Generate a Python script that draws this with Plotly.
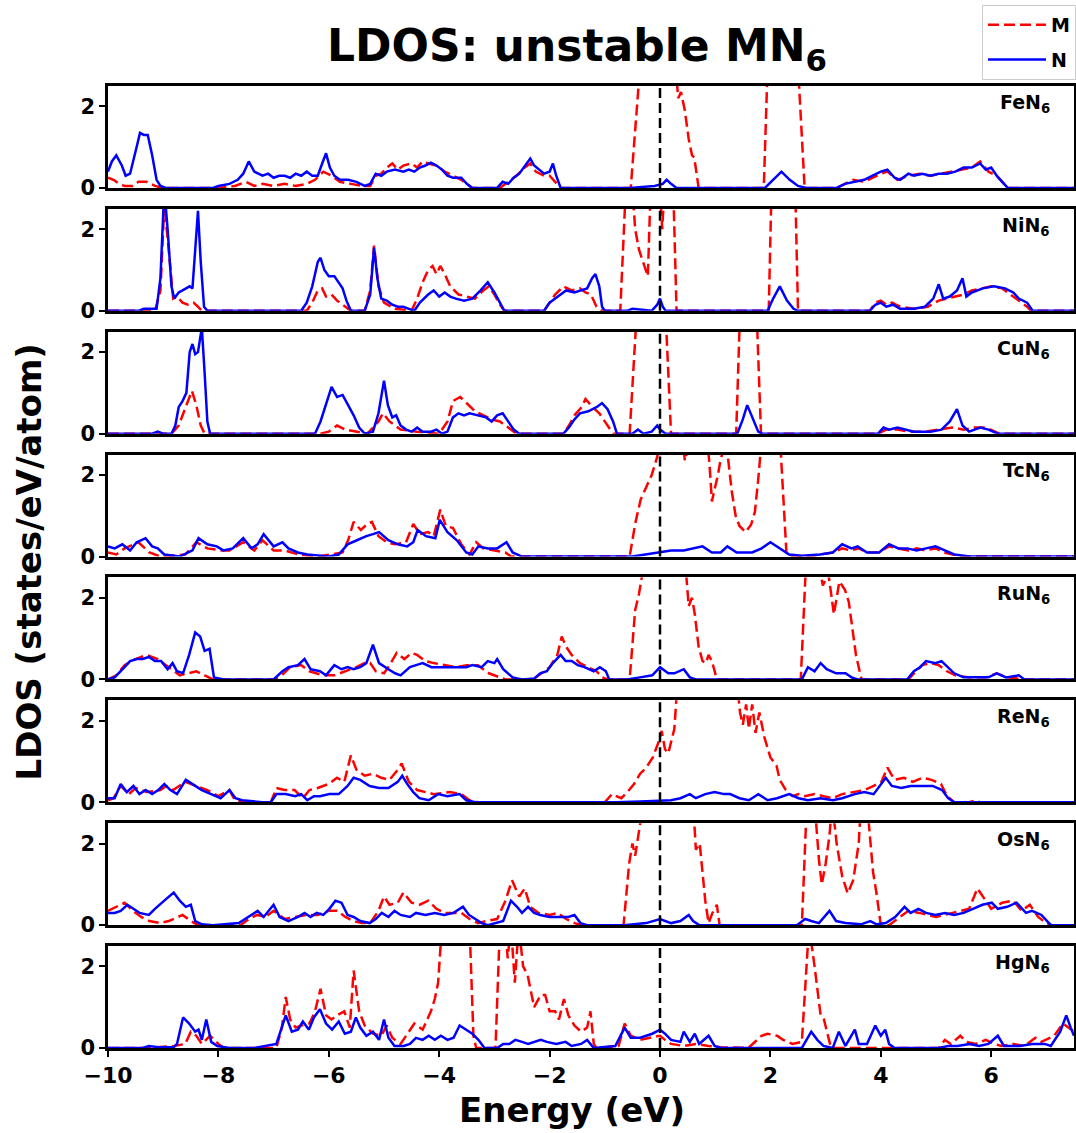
import plotly.graph_objects as go
from plotly.subplots import make_subplots

# ---------------- data (energy in eV, LDOS in states/eV/atom) ----------------
panel_labels = ["FeN<sub>6</sub>", "NiN<sub>6</sub>", "CuN<sub>6</sub>", "TcN<sub>6</sub>",
                "RuN<sub>6</sub>", "ReN<sub>6</sub>", "OsN<sub>6</sub>", "HgN<sub>6</sub>"]
x_ticks = [-10, -8, -6, -4, -2, 0, 2, 4, 6]
y_ticks = [0, 2]

fe_M = [(-10.0, 0.25), (-9.9, 0.2), (-9.8, 0.1), (-9.7, 0.05), (-9.55, 0.05), (-9.45, 0.15), (-9.3, 0.15),
        (-9.15, 0.05), (-9.0, 0.0), (-8.0, 0.0), (-7.7, 0.05), (-7.5, 0.15), (-7.35, 0.05), (-7.2, 0.1),
        (-7.0, 0.05), (-6.8, 0.1), (-6.6, 0.05), (-6.4, 0.1), (-6.25, 0.2), (-6.1, 0.4), (-5.95, 0.3),
        (-5.8, 0.15), (-5.6, 0.1), (-5.4, 0.05), (-5.25, 0.05), (-5.15, 0.3), (-5.05, 0.35), (-4.95, 0.5),
        (-4.85, 0.6), (-4.75, 0.45), (-4.65, 0.55), (-4.5, 0.6), (-4.4, 0.5), (-4.3, 0.65), (-4.2, 0.6),
        (-4.05, 0.55), (-3.9, 0.4), (-3.75, 0.3), (-3.6, 0.2), (-3.5, 0.1), (-3.4, 0.0), (-2.9, 0.0),
        (-2.8, 0.1), (-2.6, 0.3), (-2.45, 0.5), (-2.35, 0.6), (-2.25, 0.4), (-2.1, 0.3), (-2.0, 0.3),
        (-1.9, 0.15), (-1.8, 0.0), (-0.53, 0.0), (-0.36, 3.0), (-0.1, 3.5), (0.2, 3.5), (0.28, 3.0),
        (0.33, 2.2), (0.38, 2.35), (0.45, 1.9), (0.52, 1.2), (0.58, 0.8), (0.62, 0.75), (0.66, 0.3),
        (0.7, 0.0), (1.88, 0.0), (1.95, 3.0), (2.5, 3.0), (2.62, 0.0), (3.2, 0.0), (3.35, 0.1), (3.5, 0.2),
        (3.7, 0.15), (3.85, 0.25), (4.0, 0.35), (4.12, 0.4), (4.3, 0.2), (4.5, 0.3), (4.7, 0.35), (4.9, 0.3),
        (5.1, 0.35), (5.3, 0.4), (5.5, 0.45), (5.65, 0.5), (5.8, 0.65), (5.95, 0.4), (6.1, 0.3), (6.2, 0.15),
        (6.3, 0.0), (7.5, 0.0)]
fe_N = [(-10.0, 0.4), (-9.93, 0.65), (-9.85, 0.8), (-9.75, 0.55), (-9.68, 0.3), (-9.6, 0.35), (-9.5, 0.9),
        (-9.42, 1.35), (-9.35, 1.3), (-9.28, 1.3), (-9.2, 0.8), (-9.12, 0.2), (-9.05, 0.05), (-8.95, 0.0),
        (-8.1, 0.0), (-8.0, 0.05), (-7.8, 0.1), (-7.65, 0.2), (-7.55, 0.35), (-7.45, 0.65), (-7.35, 0.4),
        (-7.2, 0.3), (-7.1, 0.35), (-7.0, 0.25), (-6.9, 0.3), (-6.8, 0.3), (-6.7, 0.25), (-6.6, 0.35),
        (-6.5, 0.3), (-6.4, 0.4), (-6.3, 0.3), (-6.2, 0.3), (-6.12, 0.6), (-6.05, 0.85), (-5.98, 0.5),
        (-5.9, 0.3), (-5.8, 0.2), (-5.65, 0.2), (-5.5, 0.15), (-5.35, 0.05), (-5.25, 0.1), (-5.15, 0.35),
        (-5.05, 0.3), (-4.95, 0.4), (-4.8, 0.45), (-4.65, 0.4), (-4.55, 0.45), (-4.45, 0.4), (-4.35, 0.5),
        (-4.25, 0.55), (-4.15, 0.62), (-4.05, 0.55), (-3.95, 0.45), (-3.85, 0.3), (-3.75, 0.25), (-3.6, 0.25),
        (-3.5, 0.1), (-3.4, 0.0), (-2.95, 0.0), (-2.85, 0.15), (-2.75, 0.1), (-2.65, 0.25), (-2.55, 0.35),
        (-2.45, 0.55), (-2.35, 0.72), (-2.28, 0.55), (-2.2, 0.45), (-2.1, 0.35), (-2.0, 0.4), (-1.94, 0.6),
        (-1.88, 0.3), (-1.8, 0.0), (-0.55, 0.0), (-0.3, 0.02), (-0.1, 0.05), (0.05, 0.1), (0.12, 0.2),
        (0.2, 0.1), (0.3, 0.0), (1.9, 0.0), (2.05, 0.2), (2.2, 0.4), (2.35, 0.2), (2.5, 0.05), (2.65, 0.0),
        (3.2, 0.0), (3.35, 0.1), (3.5, 0.15), (3.7, 0.2), (3.85, 0.3), (4.0, 0.4), (4.12, 0.45), (4.25, 0.25),
        (4.35, 0.2), (4.5, 0.35), (4.6, 0.3), (4.75, 0.35), (4.9, 0.3), (5.05, 0.35), (5.2, 0.35), (5.35, 0.4),
        (5.5, 0.5), (5.65, 0.5), (5.8, 0.6), (5.9, 0.45), (6.0, 0.5), (6.1, 0.3), (6.2, 0.15), (6.3, 0.0),
        (7.5, 0.0)]

ni_M = [(-10.0, 0.0), (-9.15, 0.0), (-9.05, 0.5), (-8.98, 2.6), (-8.9, 1.5), (-8.82, 0.3), (-8.75, 0.35),
        (-8.65, 0.2), (-8.55, 0.15), (-8.45, 0.2), (-8.37, 0.1), (-8.3, 0.0), (-6.4, 0.0), (-6.3, 0.2),
        (-6.2, 0.5), (-6.12, 0.55), (-6.05, 0.35), (-5.95, 0.4), (-5.85, 0.25), (-5.75, 0.15), (-5.65, 0.05),
        (-5.6, 0.0), (-5.35, 0.0), (-5.25, 0.5), (-5.18, 1.6), (-5.1, 0.6), (-5.0, 0.2), (-4.8, 0.05),
        (-4.5, 0.0), (-4.4, 0.3), (-4.3, 0.7), (-4.2, 1.0), (-4.12, 1.1), (-4.05, 0.9), (-3.98, 1.1),
        (-3.9, 0.9), (-3.8, 0.6), (-3.65, 0.4), (-3.5, 0.35), (-3.35, 0.3), (-3.2, 0.5), (-3.1, 0.6),
        (-3.0, 0.4), (-2.9, 0.15), (-2.82, 0.0), (-2.1, 0.0), (-2.0, 0.2), (-1.9, 0.4), (-1.75, 0.6),
        (-1.6, 0.5), (-1.45, 0.55), (-1.35, 0.45), (-1.25, 0.4), (-1.15, 0.1), (-1.05, 0.0), (-0.72, 0.0),
        (-0.62, 3.0), (-0.5, 3.0), (-0.45, 2.0), (-0.38, 1.5), (-0.32, 1.25), (-0.26, 1.0), (-0.22, 0.85),
        (-0.17, 3.0), (0.0, 3.0), (0.04, 2.0), (0.08, 3.0), (0.24, 3.0), (0.3, 0.0), (1.97, 0.0), (2.02, 3.0),
        (2.45, 3.0), (2.5, 0.0), (3.8, 0.0), (3.9, 0.2), (4.0, 0.25), (4.1, 0.15), (4.2, 0.2), (4.35, 0.1),
        (4.6, 0.05), (4.85, 0.1), (5.05, 0.25), (5.2, 0.3), (5.35, 0.35), (5.5, 0.4), (5.65, 0.5), (5.85, 0.55),
        (6.0, 0.6), (6.2, 0.55), (6.35, 0.4), (6.5, 0.25), (6.65, 0.1), (6.72, 0.0), (7.5, 0.0)]
ni_N = [(-10.0, 0.0), (-9.45, 0.0), (-9.35, 0.05), (-9.2, 0.05), (-9.12, 0.05), (-9.05, 0.8), (-8.98, 3.0),
        (-8.92, 2.0), (-8.85, 0.6), (-8.8, 0.3), (-8.72, 0.45), (-8.65, 0.5), (-8.58, 0.55), (-8.52, 0.6),
        (-8.47, 0.55), (-8.42, 1.5), (-8.37, 2.45), (-8.32, 1.2), (-8.26, 0.1), (-8.2, 0.0), (-6.5, 0.0),
        (-6.4, 0.2), (-6.3, 0.6), (-6.2, 1.2), (-6.15, 1.3), (-6.08, 1.0), (-6.0, 0.85), (-5.9, 0.85),
        (-5.82, 0.7), (-5.75, 0.55), (-5.68, 0.25), (-5.6, 0.0), (-5.35, 0.0), (-5.25, 0.4), (-5.18, 1.55),
        (-5.12, 0.8), (-5.05, 0.3), (-4.95, 0.25), (-4.85, 0.15), (-4.75, 0.1), (-4.65, 0.1), (-4.55, 0.05),
        (-4.45, 0.0), (-4.35, 0.2), (-4.2, 0.4), (-4.1, 0.5), (-4.0, 0.35), (-3.9, 0.45), (-3.8, 0.35),
        (-3.7, 0.3), (-3.55, 0.25), (-3.4, 0.3), (-3.25, 0.5), (-3.12, 0.7), (-3.0, 0.45), (-2.9, 0.2),
        (-2.82, 0.0), (-2.1, 0.0), (-2.0, 0.2), (-1.85, 0.35), (-1.7, 0.5), (-1.55, 0.45), (-1.45, 0.5),
        (-1.32, 0.55), (-1.23, 0.8), (-1.17, 0.9), (-1.1, 0.6), (-1.05, 0.1), (-1.0, 0.0), (-0.6, 0.0),
        (-0.5, 0.05), (-0.3, 0.02), (-0.15, 0.0), (-0.05, 0.15), (0.0, 0.3), (0.05, 0.1), (0.1, 0.0),
        (1.95, 0.0), (2.05, 0.3), (2.17, 0.6), (2.3, 0.25), (2.42, 0.05), (2.5, 0.0), (3.8, 0.0), (3.9, 0.15),
        (4.0, 0.2), (4.1, 0.1), (4.22, 0.15), (4.35, 0.05), (4.6, 0.05), (4.8, 0.1), (4.95, 0.3), (5.05, 0.65),
        (5.13, 0.3), (5.25, 0.35), (5.38, 0.5), (5.48, 0.8), (5.55, 0.35), (5.65, 0.45), (5.85, 0.55),
        (6.05, 0.6), (6.25, 0.55), (6.4, 0.45), (6.5, 0.3), (6.65, 0.2), (6.75, 0.0), (7.5, 0.0)]

cu_M = [(-10.0, 0.0), (-8.85, 0.0), (-8.72, 0.2), (-8.62, 0.55), (-8.55, 0.8), (-8.48, 1.05), (-8.4, 0.7),
        (-8.32, 0.2), (-8.25, 0.0), (-6.15, 0.0), (-6.0, 0.05), (-5.85, 0.2), (-5.7, 0.1), (-5.5, 0.05),
        (-5.3, 0.0), (-5.1, 0.3), (-5.02, 0.5), (-4.9, 0.3), (-4.7, 0.1), (-4.4, 0.05), (-4.0, 0.0),
        (-3.85, 0.3), (-3.75, 0.8), (-3.62, 0.9), (-3.5, 0.75), (-3.35, 0.55), (-3.2, 0.45), (-3.05, 0.35),
        (-2.9, 0.3), (-2.75, 0.15), (-2.6, 0.0), (-1.75, 0.0), (-1.65, 0.2), (-1.55, 0.45), (-1.42, 0.65),
        (-1.35, 0.85), (-1.22, 0.65), (-1.1, 0.5), (-0.95, 0.2), (-0.85, 0.0), (-0.55, 0.0), (-0.42, 3.0),
        (0.1, 3.0), (0.2, 0.0), (1.38, 0.0), (1.45, 3.0), (1.75, 3.0), (1.83, 0.0), (3.95, 0.0), (4.1, 0.1),
        (4.3, 0.1), (4.5, 0.05), (4.8, 0.05), (5.1, 0.1), (5.3, 0.15), (5.5, 0.1), (5.7, 0.15), (5.9, 0.15),
        (6.05, 0.05), (6.15, 0.0), (7.5, 0.0)]
cu_N = [(-10.0, 0.0), (-9.2, 0.0), (-9.1, 0.05), (-9.0, 0.0), (-8.85, 0.0), (-8.78, 0.2), (-8.72, 0.65),
        (-8.65, 0.8), (-8.58, 1.0), (-8.52, 2.0), (-8.47, 2.2), (-8.42, 1.95), (-8.37, 2.0), (-8.3, 2.6),
        (-8.25, 1.5), (-8.2, 0.3), (-8.15, 0.0), (-6.25, 0.0), (-6.15, 0.3), (-6.05, 0.75), (-5.95, 1.15),
        (-5.85, 0.9), (-5.75, 0.95), (-5.65, 0.7), (-5.55, 0.45), (-5.45, 0.15), (-5.35, 0.0), (-5.2, 0.05),
        (-5.1, 0.5), (-5.0, 1.3), (-4.93, 0.7), (-4.85, 0.4), (-4.78, 0.45), (-4.7, 0.2), (-4.6, 0.1),
        (-4.5, 0.05), (-4.4, 0.15), (-4.3, 0.05), (-4.15, 0.05), (-4.05, 0.1), (-3.95, 0.0), (-3.85, 0.05),
        (-3.75, 0.4), (-3.65, 0.5), (-3.55, 0.45), (-3.45, 0.5), (-3.3, 0.45), (-3.15, 0.4), (-3.05, 0.3),
        (-2.95, 0.45), (-2.85, 0.5), (-2.75, 0.3), (-2.65, 0.1), (-2.55, 0.0), (-1.75, 0.0), (-1.65, 0.15),
        (-1.55, 0.35), (-1.45, 0.5), (-1.3, 0.55), (-1.15, 0.65), (-1.05, 0.75), (-0.95, 0.6), (-0.85, 0.3),
        (-0.78, 0.0), (-0.5, 0.0), (-0.4, 0.1), (-0.3, 0.0), (-0.15, 0.05), (-0.05, 0.2), (0.0, 0.1),
        (0.1, 0.0), (1.4, 0.0), (1.5, 0.35), (1.58, 0.7), (1.68, 0.35), (1.78, 0.05), (1.85, 0.0), (3.95, 0.0),
        (4.05, 0.15), (4.15, 0.1), (4.3, 0.15), (4.45, 0.1), (4.6, 0.05), (4.9, 0.05), (5.1, 0.1), (5.25, 0.3),
        (5.38, 0.6), (5.48, 0.2), (5.6, 0.05), (5.8, 0.15), (5.95, 0.1), (6.12, 0.0), (7.5, 0.0)]

tc_M = [(-10.0, 0.1), (-9.85, 0.05), (-9.7, 0.2), (-9.45, 0.35), (-9.25, 0.1), (-9.05, 0.0), (-8.6, 0.05),
        (-8.4, 0.35), (-8.2, 0.2), (-7.95, 0.15), (-7.8, 0.15), (-7.55, 0.35), (-7.35, 0.15), (-7.2, 0.4),
        (-7.0, 0.15), (-6.8, 0.15), (-6.55, 0.05), (-6.2, 0.0), (-5.75, 0.1), (-5.65, 0.4), (-5.55, 0.85),
        (-5.42, 0.65), (-5.3, 0.8), (-5.22, 0.85), (-5.1, 0.5), (-4.95, 0.35), (-4.8, 0.3), (-4.6, 0.35),
        (-4.47, 0.8), (-4.35, 0.55), (-4.2, 0.6), (-4.1, 0.5), (-3.98, 1.15), (-3.88, 0.75), (-3.75, 0.7),
        (-3.6, 0.3), (-3.45, 0.05), (-3.33, 0.35), (-3.2, 0.2), (-3.0, 0.15), (-2.8, 0.1), (-2.7, 0.0),
        (-0.55, 0.0), (-0.45, 0.8), (-0.35, 1.4), (-0.25, 1.7), (-0.15, 2.0), (-0.05, 2.45), (0.05, 3.0),
        (0.4, 3.0), (0.45, 2.35), (0.5, 2.6), (0.85, 3.0), (0.9, 2.2), (0.94, 1.35), (0.98, 1.6), (1.05, 2.0),
        (1.1, 2.4), (1.2, 2.8), (1.3, 1.6), (1.37, 1.0), (1.44, 0.75), (1.55, 0.6), (1.65, 0.78), (1.72, 1.1),
        (1.78, 1.9), (1.85, 3.0), (2.17, 3.0), (2.29, 0.1), (2.35, 0.0), (2.7, 0.0), (2.9, 0.05), (3.13, 0.1),
        (3.3, 0.2), (3.45, 0.15), (3.6, 0.2), (3.75, 0.1), (3.95, 0.1), (4.15, 0.25), (4.3, 0.2), (4.5, 0.15),
        (4.65, 0.2), (4.8, 0.15), (5.0, 0.2), (5.15, 0.1), (5.3, 0.05), (5.5, 0.0), (7.5, 0.0)]
tc_N = [(-10.0, 0.25), (-9.88, 0.2), (-9.74, 0.3), (-9.6, 0.15), (-9.48, 0.35), (-9.32, 0.45), (-9.2, 0.25),
        (-9.1, 0.2), (-8.98, 0.05), (-8.7, 0.0), (-8.47, 0.15), (-8.36, 0.45), (-8.2, 0.3), (-8.03, 0.25),
        (-7.91, 0.15), (-7.74, 0.2), (-7.55, 0.45), (-7.4, 0.2), (-7.29, 0.3), (-7.18, 0.55), (-7.0, 0.25),
        (-6.84, 0.35), (-6.73, 0.2), (-6.56, 0.1), (-6.39, 0.05), (-6.0, 0.0), (-5.82, 0.05), (-5.66, 0.3),
        (-5.49, 0.4), (-5.32, 0.5), (-5.2, 0.55), (-5.09, 0.6), (-4.92, 0.4), (-4.75, 0.3), (-4.58, 0.25),
        (-4.47, 0.35), (-4.39, 0.65), (-4.24, 0.5), (-4.07, 0.45), (-3.99, 0.9), (-3.85, 0.6), (-3.68, 0.4),
        (-3.51, 0.1), (-3.4, 0.05), (-3.29, 0.25), (-3.12, 0.2), (-2.95, 0.2), (-2.78, 0.35), (-2.67, 0.1),
        (-2.5, 0.0), (-0.5, 0.0), (-0.25, 0.05), (0.0, 0.1), (0.2, 0.15), (0.43, 0.15), (0.6, 0.2),
        (0.77, 0.25), (0.94, 0.1), (1.1, 0.1), (1.22, 0.25), (1.39, 0.1), (1.67, 0.1), (1.84, 0.2), (2.0, 0.35),
        (2.17, 0.2), (2.34, 0.05), (2.57, 0.02), (2.9, 0.05), (3.13, 0.1), (3.3, 0.3), (3.47, 0.2), (3.58, 0.25),
        (3.75, 0.1), (3.97, 0.1), (4.15, 0.3), (4.32, 0.2), (4.48, 0.2), (4.65, 0.15), (4.82, 0.2), (4.99, 0.25),
        (5.16, 0.15), (5.33, 0.05), (5.61, 0.0), (7.5, 0.0)]

ru_M = [(-10.0, 0.0), (-9.85, 0.1), (-9.7, 0.35), (-9.5, 0.5), (-9.3, 0.6), (-9.1, 0.5), (-8.9, 0.3),
        (-8.7, 0.1), (-8.55, 0.15), (-8.4, 0.2), (-8.25, 0.1), (-8.1, 0.0), (-7.0, 0.0), (-6.85, 0.1),
        (-6.7, 0.3), (-6.5, 0.35), (-6.35, 0.2), (-6.1, 0.1), (-5.9, 0.1), (-5.7, 0.2), (-5.5, 0.3),
        (-5.35, 0.4), (-5.25, 0.4), (-5.15, 0.2), (-5.0, 0.15), (-4.9, 0.35), (-4.77, 0.65), (-4.63, 0.5),
        (-4.5, 0.65), (-4.4, 0.6), (-4.25, 0.45), (-4.1, 0.4), (-3.9, 0.35), (-3.7, 0.3), (-3.5, 0.35),
        (-3.3, 0.35), (-3.1, 0.15), (-2.9, 0.05), (-2.8, 0.0), (-2.3, 0.0), (-2.2, 0.1), (-2.0, 0.3),
        (-1.86, 0.6), (-1.78, 1.05), (-1.7, 0.8), (-1.6, 0.6), (-1.45, 0.4), (-1.3, 0.3), (-1.15, 0.2),
        (-1.05, 0.05), (-0.95, 0.0), (-0.55, 0.0), (-0.45, 1.7), (-0.38, 2.1), (-0.27, 3.0), (0.45, 3.0),
        (0.52, 1.8), (0.58, 2.0), (0.63, 1.6), (0.7, 0.8), (0.77, 0.45), (0.83, 0.4), (0.88, 0.6), (0.94, 0.45),
        (0.99, 0.2), (1.03, 0.0), (2.55, 0.0), (2.65, 3.0), (2.85, 3.0), (2.95, 2.3), (3.05, 2.6), (3.15, 1.6),
        (3.25, 2.4), (3.35, 2.2), (3.42, 1.9), (3.55, 0.6), (3.65, 0.0), (4.5, 0.0), (4.6, 0.15), (4.75, 0.35),
        (4.9, 0.4), (5.05, 0.35), (5.2, 0.2), (5.35, 0.1), (5.6, 0.05), (5.9, 0.05), (6.1, 0.15), (6.3, 0.05),
        (6.6, 0.0), (7.5, 0.0)]
ru_N = [(-10.0, 0.0), (-9.88, 0.05), (-9.7, 0.3), (-9.6, 0.45), (-9.48, 0.5), (-9.37, 0.5), (-9.26, 0.55),
        (-9.15, 0.45), (-9.04, 0.45), (-8.92, 0.25), (-8.83, 0.4), (-8.75, 0.2), (-8.64, 0.15), (-8.53, 0.6),
        (-8.42, 1.15), (-8.33, 1.05), (-8.25, 0.7), (-8.16, 0.75), (-8.08, 0.05), (-7.9, 0.0), (-7.0, 0.0),
        (-6.84, 0.2), (-6.73, 0.3), (-6.56, 0.35), (-6.44, 0.5), (-6.33, 0.25), (-6.16, 0.2), (-6.05, 0.1),
        (-5.9, 0.35), (-5.77, 0.25), (-5.66, 0.3), (-5.55, 0.25), (-5.43, 0.3), (-5.32, 0.4), (-5.2, 0.85),
        (-5.09, 0.4), (-4.92, 0.25), (-4.8, 0.15), (-4.7, 0.1), (-4.53, 0.3), (-4.42, 0.35), (-4.3, 0.4),
        (-4.14, 0.3), (-3.97, 0.3), (-3.8, 0.3), (-3.63, 0.3), (-3.51, 0.3), (-3.4, 0.35), (-3.23, 0.3),
        (-3.12, 0.45), (-3.0, 0.4), (-2.95, 0.5), (-2.84, 0.25), (-2.67, 0.05), (-2.5, 0.0), (-2.28, 0.02),
        (-2.17, 0.15), (-2.05, 0.2), (-1.94, 0.4), (-1.8, 0.6), (-1.71, 0.45), (-1.6, 0.45), (-1.49, 0.35),
        (-1.37, 0.3), (-1.2, 0.2), (-1.09, 0.3), (-0.98, 0.2), (-0.92, 0.0), (-0.6, 0.0), (-0.36, 0.05),
        (-0.14, 0.1), (0.0, 0.3), (0.15, 0.15), (0.26, 0.15), (0.43, 0.25), (0.54, 0.05), (0.65, 0.0),
        (2.57, 0.0), (2.68, 0.3), (2.8, 0.2), (2.91, 0.4), (3.02, 0.25), (3.19, 0.15), (3.36, 0.15),
        (3.47, 0.05), (3.58, 0.0), (4.48, 0.0), (4.6, 0.2), (4.71, 0.3), (4.82, 0.45), (4.99, 0.4), (5.1, 0.45),
        (5.22, 0.3), (5.33, 0.15), (5.5, 0.05), (5.95, 0.05), (6.1, 0.15), (6.27, 0.05), (6.5, 0.1), (6.6, 0.0),
        (7.5, 0.0)]

re_M = [(-10.0, 0.05), (-9.9, 0.1), (-9.77, 0.4), (-9.62, 0.2), (-9.5, 0.35), (-9.3, 0.25), (-9.05, 0.3),
        (-8.95, 0.4), (-8.82, 0.3), (-8.6, 0.5), (-8.4, 0.4), (-8.2, 0.3), (-8.0, 0.15), (-7.8, 0.3),
        (-7.7, 0.05), (-7.5, 0.0), (-7.05, 0.0), (-6.95, 0.35), (-6.8, 0.3), (-6.62, 0.3), (-6.47, 0.1),
        (-6.35, 0.3), (-6.2, 0.35), (-6.0, 0.45), (-5.85, 0.6), (-5.72, 0.5), (-5.6, 1.15), (-5.5, 0.8),
        (-5.35, 0.65), (-5.2, 0.7), (-5.05, 0.6), (-4.9, 0.55), (-4.75, 0.8), (-4.68, 0.95), (-4.55, 0.5),
        (-4.4, 0.3), (-4.1, 0.2), (-3.8, 0.25), (-3.6, 0.2), (-3.45, 0.05), (-3.3, 0.0), (-1.0, 0.0),
        (-0.87, 0.2), (-0.7, 0.1), (-0.59, 0.25), (-0.47, 0.45), (-0.36, 0.7), (-0.25, 0.85), (-0.13, 1.1),
        (-0.02, 1.5), (0.03, 1.75), (0.09, 1.3), (0.15, 1.2), (0.26, 1.8), (0.32, 3.0), (1.39, 3.0),
        (1.45, 2.2), (1.5, 1.9), (1.56, 2.4), (1.61, 1.8), (1.67, 2.4), (1.73, 1.7), (1.8, 2.2), (1.89, 1.6),
        (2.0, 1.1), (2.11, 0.9), (2.17, 0.55), (2.28, 0.3), (2.4, 0.15), (2.51, 0.2), (2.62, 0.15), (2.8, 0.2),
        (2.96, 0.15), (3.13, 0.1), (3.3, 0.2), (3.53, 0.25), (3.7, 0.3), (3.87, 0.4), (4.01, 0.5), (4.12, 0.85),
        (4.25, 0.55), (4.42, 0.6), (4.58, 0.5), (4.75, 0.6), (4.92, 0.55), (5.09, 0.45), (5.2, 0.15),
        (5.33, 0.0), (5.6, 0.0), (5.72, 0.05), (5.8, 0.0), (7.5, 0.0)]
re_N = [(-10.0, 0.1), (-9.88, 0.1), (-9.77, 0.45), (-9.66, 0.25), (-9.54, 0.4), (-9.43, 0.2), (-9.32, 0.3),
        (-9.2, 0.2), (-9.09, 0.3), (-8.98, 0.45), (-8.87, 0.3), (-8.75, 0.2), (-8.59, 0.55), (-8.47, 0.45),
        (-8.3, 0.3), (-8.13, 0.2), (-7.96, 0.1), (-7.8, 0.3), (-7.69, 0.1), (-7.57, 0.05), (-7.2, 0.0),
        (-7.05, 0.0), (-6.95, 0.2), (-6.78, 0.2), (-6.61, 0.15), (-6.5, 0.2), (-6.39, 0.05), (-6.27, 0.15),
        (-6.16, 0.15), (-5.99, 0.2), (-5.82, 0.2), (-5.66, 0.4), (-5.55, 0.6), (-5.43, 0.55), (-5.26, 0.4),
        (-5.09, 0.35), (-4.92, 0.35), (-4.75, 0.5), (-4.67, 0.65), (-4.58, 0.45), (-4.47, 0.25), (-4.36, 0.1),
        (-4.19, 0.05), (-4.02, 0.2), (-3.85, 0.15), (-3.63, 0.2), (-3.51, 0.05), (-3.34, 0.0), (-0.8, 0.0),
        (-0.36, 0.02), (0.0, 0.05), (0.2, 0.05), (0.37, 0.1), (0.54, 0.2), (0.65, 0.1), (0.82, 0.2),
        (0.99, 0.25), (1.16, 0.2), (1.27, 0.2), (1.44, 0.1), (1.61, 0.05), (1.78, 0.2), (1.95, 0.05),
        (2.12, 0.1), (2.34, 0.2), (2.51, 0.1), (2.68, 0.05), (2.91, 0.1), (3.13, 0.05), (3.3, 0.1), (3.53, 0.2),
        (3.7, 0.25), (3.87, 0.2), (4.09, 0.6), (4.2, 0.4), (4.37, 0.35), (4.54, 0.4), (4.71, 0.4), (4.94, 0.4),
        (5.11, 0.3), (5.22, 0.1), (5.33, 0.0), (7.5, 0.0)]

os_M = [(-10.0, 0.35), (-9.85, 0.45), (-9.7, 0.55), (-9.55, 0.35), (-9.4, 0.2), (-9.25, 0.1), (-9.05, 0.05),
        (-8.9, 0.1), (-8.75, 0.2), (-8.65, 0.25), (-8.5, 0.1), (-8.4, 0.02), (-8.2, 0.0), (-7.6, 0.0),
        (-7.45, 0.15), (-7.3, 0.25), (-7.15, 0.2), (-7.0, 0.35), (-6.8, 0.15), (-6.6, 0.2), (-6.4, 0.25),
        (-6.2, 0.25), (-6.0, 0.35), (-5.85, 0.35), (-5.7, 0.2), (-5.55, 0.1), (-5.4, 0.05), (-5.25, 0.05),
        (-5.1, 0.35), (-5.0, 0.7), (-4.9, 0.5), (-4.75, 0.55), (-4.65, 0.8), (-4.5, 0.55), (-4.35, 0.5),
        (-4.2, 0.6), (-4.05, 0.4), (-3.9, 0.3), (-3.75, 0.3), (-3.6, 0.3), (-3.45, 0.15), (-3.3, 0.05),
        (-3.15, 0.1), (-2.95, 0.15), (-2.8, 0.6), (-2.68, 1.1), (-2.55, 0.7), (-2.45, 0.9), (-2.35, 0.45),
        (-2.2, 0.3), (-2.0, 0.25), (-1.85, 0.3), (-1.7, 0.15), (-1.55, 0.05), (-1.4, 0.0), (-0.66, 0.0),
        (-0.56, 1.5), (-0.5, 2.0), (-0.45, 1.7), (-0.38, 2.3), (-0.3, 3.0), (0.6, 3.0), (0.65, 1.85),
        (0.72, 2.0), (0.77, 1.3), (0.82, 0.6), (0.88, 0.05), (0.95, 0.3), (1.03, 0.5), (1.08, 0.0), (2.57, 0.0),
        (2.66, 3.0), (2.8, 3.0), (2.88, 1.6), (2.93, 1.0), (3.0, 1.5), (3.07, 2.2), (3.12, 3.0), (3.2, 2.0),
        (3.3, 1.2), (3.4, 0.78), (3.5, 1.1), (3.6, 2.0), (3.64, 3.0), (3.75, 3.0), (3.86, 1.3), (3.92, 0.8),
        (4.0, 0.0), (4.15, 0.0), (4.3, 0.15), (4.5, 0.35), (4.7, 0.3), (5.0, 0.2), (5.3, 0.3), (5.6, 0.4),
        (5.75, 0.9), (5.85, 0.7), (6.0, 0.4), (6.2, 0.55), (6.4, 0.6), (6.55, 0.35), (6.7, 0.5), (6.85, 0.2),
        (7.0, 0.05), (7.1, 0.0), (7.5, 0.0)]
os_N = [(-10.0, 0.3), (-9.88, 0.3), (-9.77, 0.35), (-9.65, 0.5), (-9.54, 0.4), (-9.43, 0.3), (-9.26, 0.25),
        (-9.15, 0.4), (-8.98, 0.6), (-8.81, 0.8), (-8.7, 0.6), (-8.59, 0.45), (-8.5, 0.5), (-8.42, 0.1),
        (-8.3, 0.02), (-8.1, 0.0), (-7.63, 0.05), (-7.46, 0.2), (-7.29, 0.35), (-7.18, 0.2), (-7.0, 0.5),
        (-6.89, 0.2), (-6.73, 0.1), (-6.56, 0.2), (-6.44, 0.3), (-6.33, 0.2), (-6.22, 0.3), (-6.1, 0.25),
        (-5.99, 0.4), (-5.88, 0.6), (-5.77, 0.55), (-5.66, 0.25), (-5.55, 0.2), (-5.43, 0.1), (-5.26, 0.05),
        (-5.15, 0.15), (-5.04, 0.3), (-4.92, 0.2), (-4.81, 0.35), (-4.7, 0.25), (-4.53, 0.2), (-4.42, 0.3),
        (-4.25, 0.25), (-4.08, 0.3), (-3.91, 0.25), (-3.74, 0.3), (-3.57, 0.45), (-3.46, 0.25), (-3.35, 0.15),
        (-3.23, 0.05), (-3.12, 0.0), (-2.95, 0.05), (-2.84, 0.1), (-2.7, 0.6), (-2.59, 0.45), (-2.5, 0.3),
        (-2.39, 0.45), (-2.28, 0.3), (-2.17, 0.25), (-2.0, 0.2), (-1.83, 0.2), (-1.66, 0.2), (-1.55, 0.25),
        (-1.44, 0.05), (-1.32, 0.0), (-0.65, 0.0), (-0.47, 0.02), (-0.25, 0.05), (0.0, 0.15), (0.09, 0.1),
        (0.2, 0.05), (0.37, 0.1), (0.52, 0.25), (0.6, 0.1), (0.71, 0.0), (2.48, 0.0), (2.63, 0.15), (2.74, 0.1),
        (2.88, 0.05), (3.07, 0.35), (3.19, 0.1), (3.36, 0.05), (3.64, 0.02), (3.81, 0.1), (3.92, 0.02),
        (4.09, 0.05), (4.26, 0.2), (4.43, 0.45), (4.54, 0.3), (4.68, 0.4), (4.82, 0.3), (4.99, 0.25),
        (5.16, 0.3), (5.33, 0.25), (5.5, 0.3), (5.67, 0.4), (5.84, 0.5), (6.01, 0.55), (6.12, 0.4), (6.29, 0.45),
        (6.46, 0.55), (6.63, 0.3), (6.74, 0.35), (6.91, 0.25), (7.08, 0.0), (7.5, 0.0)]

hg_M = [(-10.0, 0.0), (-9.3, 0.0), (-8.8, 0.05), (-8.6, 0.1), (-8.5, 0.4), (-8.4, 0.3), (-8.3, 0.1),
        (-8.15, 0.3), (-8.0, 0.1), (-7.9, 0.0), (-6.95, 0.0), (-6.85, 0.5), (-6.78, 1.25), (-6.7, 0.7),
        (-6.6, 0.5), (-6.5, 0.55), (-6.35, 0.6), (-6.25, 0.9), (-6.15, 1.45), (-6.05, 0.8), (-5.95, 0.7),
        (-5.85, 0.8), (-5.72, 0.9), (-5.62, 0.5), (-5.55, 1.9), (-5.45, 0.9), (-5.35, 0.55), (-5.2, 0.35),
        (-5.05, 0.3), (-4.95, 0.55), (-4.85, 0.25), (-4.7, 0.1), (-4.6, 0.3), (-4.45, 0.6), (-4.3, 0.45),
        (-4.15, 0.9), (-4.08, 1.2), (-4.02, 1.6), (-3.95, 3.0), (-3.45, 3.0), (-3.38, 0.3), (-3.33, 0.0),
        (-2.98, 0.0), (-2.9, 3.0), (-2.8, 3.0), (-2.76, 2.2), (-2.7, 3.0), (-2.63, 1.6), (-2.56, 3.0),
        (-2.48, 2.0), (-2.4, 1.8), (-2.28, 1.0), (-2.16, 1.3), (-2.08, 1.3), (-2.0, 0.9), (-1.9, 0.9),
        (-1.83, 0.7), (-1.74, 1.2), (-1.66, 0.8), (-1.55, 0.55), (-1.43, 0.4), (-1.32, 0.5), (-1.26, 0.9),
        (-1.2, 0.1), (-1.15, 0.0), (-0.75, 0.05), (-0.64, 0.6), (-0.53, 0.3), (-0.36, 0.2), (-0.14, 0.25),
        (0.0, 0.3), (0.09, 0.2), (0.2, 0.1), (0.43, 0.05), (0.65, 0.1), (0.88, 0.05), (1.1, 0.02), (1.6, 0.0),
        (1.84, 0.3), (1.95, 0.35), (2.12, 0.3), (2.23, 0.2), (2.4, 0.1), (2.57, 0.15), (2.66, 2.2), (2.7, 3.0),
        (2.8, 2.0), (2.86, 1.4), (2.91, 0.8), (2.97, 0.7), (3.02, 0.4), (3.08, 0.1), (3.13, 0.0), (5.05, 0.0),
        (5.16, 0.2), (5.27, 0.1), (5.44, 0.3), (5.55, 0.15), (5.72, 0.1), (5.9, 0.2), (6.06, 0.1), (6.18, 0.05),
        (6.4, 0.1), (6.6, 0.05), (6.8, 0.25), (6.91, 0.15), (7.14, 0.3), (7.3, 0.6), (7.5, 0.4)]
hg_N = [(-10.0, 0.0), (-9.37, 0.0), (-9.26, 0.05), (-9.09, 0.02), (-8.81, 0.02), (-8.75, 0.1), (-8.64, 0.75),
        (-8.53, 0.6), (-8.42, 0.4), (-8.36, 0.45), (-8.3, 0.2), (-8.22, 0.7), (-8.13, 0.15), (-8.02, 0.05),
        (-7.8, 0.0), (-7.35, 0.0), (-6.95, 0.1), (-6.78, 0.8), (-6.67, 0.4), (-6.56, 0.45), (-6.47, 0.65),
        (-6.36, 0.45), (-6.27, 0.75), (-6.16, 0.95), (-6.05, 0.6), (-5.94, 0.45), (-5.82, 0.65), (-5.71, 0.35),
        (-5.6, 0.4), (-5.51, 0.75), (-5.43, 0.5), (-5.32, 0.3), (-5.2, 0.4), (-5.09, 0.2), (-5.0, 0.7),
        (-4.92, 0.25), (-4.81, 0.05), (-4.64, 0.05), (-4.53, 0.1), (-4.42, 0.25), (-4.3, 0.2), (-4.19, 0.3),
        (-4.08, 0.2), (-3.97, 0.3), (-3.85, 0.2), (-3.74, 0.25), (-3.63, 0.55), (-3.51, 0.45), (-3.4, 0.35),
        (-3.29, 0.2), (-3.18, 0.0), (-2.95, 0.0), (-2.84, 0.1), (-2.73, 0.1), (-2.62, 0.2), (-2.5, 0.15),
        (-2.39, 0.1), (-2.16, 0.2), (-2.05, 0.15), (-1.88, 0.1), (-1.71, 0.15), (-1.6, 0.05), (-1.43, 0.1),
        (-1.32, 0.2), (-1.2, 0.0), (-0.81, 0.05), (-0.64, 0.5), (-0.53, 0.25), (-0.36, 0.25), (-0.25, 0.3),
        (-0.14, 0.35), (0.0, 0.45), (0.09, 0.35), (0.2, 0.2), (0.37, 0.15), (0.43, 0.4), (0.54, 0.15),
        (0.63, 0.35), (0.71, 0.1), (0.88, 0.3), (0.99, 0.05), (1.1, 0.0), (2.57, 0.0), (2.74, 0.4), (2.85, 0.2),
        (2.96, 0.05), (3.13, 0.0), (3.24, 0.4), (3.36, 0.05), (3.53, 0.45), (3.6, 0.1), (3.75, 0.1), (3.9, 0.55),
        (4.0, 0.3), (4.08, 0.45), (4.15, 0.1), (4.25, 0.0), (5.05, 0.0), (5.22, 0.05), (5.39, 0.05), (5.61, 0.1),
        (5.78, 0.05), (5.95, 0.1), (6.12, 0.3), (6.23, 0.05), (6.52, 0.05), (6.74, 0.1), (6.97, 0.1),
        (7.08, 0.05), (7.25, 0.4), (7.36, 0.8), (7.44, 0.5), (7.5, 0.3)]

panels = [(panel_labels[0], fe_M, fe_N), (panel_labels[1], ni_M, ni_N), (panel_labels[2], cu_M, cu_N),
          (panel_labels[3], tc_M, tc_N), (panel_labels[4], ru_M, ru_N), (panel_labels[5], re_M, re_N),
          (panel_labels[6], os_M, os_N), (panel_labels[7], hg_M, hg_N)]

# ---------------- figure ----------------
FONT = "DejaVu Sans"
W, H = 1076, 1133
ML, MR, MT, MB = 108, 2, 86, 85
plot_w = W - ML - MR
plot_h = H - MT - MB
n = len(panels)
gap_px = 20.9

fig = make_subplots(rows=n, cols=1, shared_xaxes=True, vertical_spacing=gap_px / plot_h)

for i, (label, m_pts, n_pts) in enumerate(panels, start=1):
    fig.add_trace(go.Scatter(x=[p[0] for p in m_pts], y=[p[1] for p in m_pts], mode="lines", name="M",
                             legendgroup="M", showlegend=(i == 1),
                             line=dict(color="#ff0000", width=2.5, dash="11px,5px")), row=i, col=1)
    fig.add_trace(go.Scatter(x=[p[0] for p in n_pts], y=[p[1] for p in n_pts], mode="lines", name="N",
                             legendgroup="N", showlegend=(i == 1),
                             line=dict(color="#0000ff", width=2.5)), row=i, col=1)
    sfx = "" if i == 1 else str(i)
    fig.add_shape(type="line", x0=0, x1=0, y0=0, y1=1, xref="x" + sfx, yref="y" + sfx + " domain",
                  line=dict(color="black", width=2.5, dash="10px,5px"))
    fig.add_annotation(text=label, xref="paper", x=(1052 - ML) / plot_w, xanchor="right",
                       yref="y" + sfx + " domain", y=0.83, yanchor="middle", showarrow=False,
                       font=dict(family=FONT, size=19, color="black", weight="bold"))

fig.update_xaxes(range=[-10, 7.5], showline=True, linecolor="black", linewidth=2.5, mirror=True,
                 showgrid=False, zeroline=False, ticks="", showticklabels=False)
fig.update_xaxes(row=n, col=1, ticks="outside", ticklen=6, tickwidth=2, tickcolor="black",
                 showticklabels=True, tickvals=x_ticks,
                 tickfont=dict(family=FONT, size=22, color="black", weight="bold"))
fig.update_yaxes(range=[0, 2.5], tickvals=y_ticks, ticks="outside", ticklen=6, tickwidth=2, tickcolor="black",
                 showline=True, linecolor="black", linewidth=2.5, mirror=True, showgrid=False, zeroline=False,
                 tickfont=dict(family=FONT, size=21, color="black", weight="bold"))

fig.add_annotation(text="LDOS (states/eV/atom)", textangle=-90, xref="paper", x=(28.5 - ML) / plot_w,
                   xanchor="center", yref="paper", y=(H - MB - 562) / plot_h, yanchor="middle", showarrow=False,
                   font=dict(family=FONT, size=34, color="black", weight="bold"))
fig.add_annotation(text="Energy (eV)", xref="paper", x=(572 - ML) / plot_w, xanchor="center",
                   yref="paper", y=(H - MB - 1110) / plot_h, yanchor="middle", showarrow=False,
                   font=dict(family=FONT, size=34, color="black", weight="bold"))

fig.update_layout(
    width=W, height=H,
    margin=dict(l=ML, r=MR, t=MT, b=MB, autoexpand=False),
    paper_bgcolor="white", plot_bgcolor="white",
    title=dict(text="LDOS: unstable MN<sub>6</sub>", xref="container", x=577 / W, xanchor="center",
               yref="container", y=1 - 46 / H, yanchor="middle",
               font=dict(family=FONT, size=44, color="black", weight="bold")),
    legend=dict(xref="container", x=1.0, xanchor="right", yref="container", y=1 - 5 / H, yanchor="top",
                bgcolor="white", bordercolor="#cccccc", borderwidth=1, tracegroupgap=7, itemwidth=58,
                font=dict(family=FONT, size=19, color="black", weight="bold")),
)

fig.write_html("out.html")
